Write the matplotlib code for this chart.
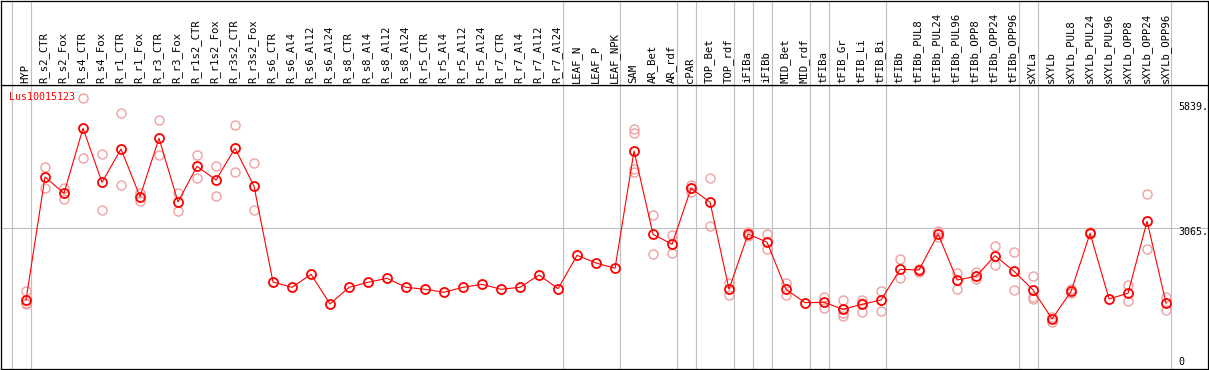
import matplotlib
matplotlib.use('Agg')
import matplotlib.pyplot as plt

# column names, left to right
samples = ['HYP', 'R_s2_CTR', 'R_s2_Fox', 'R_s4_CTR', 'R_s4_Fox', 'R_r1_CTR', 'R_r1_Fox',
           'R_r3_CTR', 'R_r3_Fox', 'R_r1s2_CTR', 'R_r1s2_Fox', 'R_r3s2_CTR', 'R_r3s2_Fox',
           'R_s6_CTR', 'R_s6_Al4', 'R_s6_Al12', 'R_s6_Al24', 'R_s8_CTR', 'R_s8_Al4',
           'R_s8_Al12', 'R_s8_Al24', 'R_r5_CTR', 'R_r5_Al4', 'R_r5_Al12', 'R_r5_Al24',
           'R_r7_CTR', 'R_r7_Al4', 'R_r7_Al12', 'R_r7_Al24', 'LEAF_N', 'LEAF_P', 'LEAF_NPK',
           'SAM', 'AR_Bet', 'AR_rdf', 'cPAR', 'TOP_Bet', 'TOP_rdf', 'iFIBa', 'iFIBb',
           'MID_Bet', 'MID_rdf', 'tFIBa', 'tFIB_Gr', 'tFIB_Li', 'tFIB_Bi', 'tFIBb',
           'tFIBb_PUL8', 'tFIBb_PUL24', 'tFIBb_PUL96', 'tFIBb_OPP8', 'tFIBb_OPP24',
           'tFIBb_OPP96', 'sXYLa', 'sXYLb', 'sXYLb_PUL8', 'sXYLb_PUL24', 'sXYLb_PUL96',
           'sXYLb_OPP8', 'sXYLb_OPP24', 'sXYLb_OPP96']

# mean expression per column
means = [1534, 4159, 3811, 5198, 4046, 4757, 3739, 4985, 3626, 4388, 4095, 4772, 3961,
         1918, 1805, 2083, 1449, 1805, 1912, 1997, 1805, 1763, 1699, 1805, 1869,
         1763, 1805, 2068, 1775, 2488, 2324, 2211,
         4714, 2936, 2723, 3918, 3619, 1763, 2943, 2766, 1763, 1477,
         1485, 1336, 1443, 1534, 2189, 2175, 2943, 1961, 2040, 2480, 2147,
         1748, 1129, 1720, 2958, 1556, 1680, 3214, 1464]

# replicate values per column (empty = none shown)
replicates = [[1733, 1477, 1449], [4366, 3918], [3931, 3696], [5839, 4558], [4650, 3449],
              [5525, 3982], [3818, 3653], [5369, 4622], [3811, 3434], [4622, 4131],
              [4400, 3760], [5262, 4259], [4452, 3449],
              [], [], [], [], [], [], [], [], [], [], [], [], [], [], [], [],
              [], [], [],
              [5177, 5092, 4324, 4266], [3342, 2516], [2915, 2537], [3995, 3918, 3839],
              [4131, 3113], [1891, 1635], [2992, 2900], [2943, 2616], [1904, 1635], [],
              [1605, 1357], [1534, 1251, 1193], [1534, 1477, 1285], [1726, 1293],
              [2403, 1997], [2189, 2125], [3013, 2872], [2117, 1775], [2125, 1990],
              [2687, 2275], [2552, 1741],
              [2047, 1592, 1549], [1178, 1071], [1763, 1690], [2985, 2936], [],
              [1861, 1519], [3790, 2616], [1598, 1327]]

# group separators drawn after these column indices
separators = [-1, 0, 28, 31, 34, 35, 37, 38, 39, 41, 42, 45, 52, 53, 60]

gene = 'Lus10015123'
max_label, mid_label = 5839, 3065

W, H = 1209, 370
fig = plt.figure(figsize=(W / 100, H / 100), dpi=100)

top_px, bot_px, left_px, right_px = 85, 369, 1, 1207.5
ax = fig.add_axes([left_px / W, 1 - bot_px / H, (right_px - left_px) / W, (bot_px - top_px) / H])
hx = fig.add_axes([left_px / W, 1 - top_px / H, (right_px - left_px) / W, (top_px - 0.5) / H], sharex=ax)

ax.set_xlim(-1.316, 62.18)
ax.set_ylim(62, 6122)
hx.set_ylim(0, 1)

for a in (ax, hx):
    a.set_xticks([])
    a.set_yticks([])
    for s in a.spines.values():
        s.set_linewidth(0.9)
        s.set_color('black')
    for sep in separators:
        a.axvline(sep + 0.25, color='#c0c0c0', lw=0.8, zorder=0)

ax.axhline(mid_label, color='#c0c0c0', lw=0.8, zorder=0)

xs = list(range(len(samples)))
for i, reps in enumerate(replicates):
    if reps:
        ax.plot([i] * len(reps), reps, 'o', ms=6.5, mfc='none', mec='#f0a0a0', mew=1.0, zorder=2)

ax.plot(xs, means, '-', color='red', lw=0.8, zorder=3)
ax.plot(xs, means, 'o', ms=6.5, mfc='none', mec='red', mew=1.3, zorder=4)

for i, name in enumerate(samples):
    hx.text(i - 0.05, 0.025, name, rotation=90, ha='center', va='bottom',
            fontsize=7.7, family='DejaVu Sans Mono', color='black')

ax.text(8.5 / (right_px - left_px), (bot_px - 97) / (bot_px - top_px), gene, transform=ax.transAxes,
        ha='left', va='center', color='red', fontsize=7.2, family='DejaVu Sans Mono')

for lab, ypx in [('%d.' % max_label, 107), ('%d.' % mid_label, 231.7), ('0', 361.7)]:
    ax.text((1178 - left_px) / (right_px - left_px), (bot_px - ypx) / (bot_px - top_px), lab,
            transform=ax.transAxes, ha='left', va='center', fontsize=7.2,
            family='DejaVu Sans Mono', color='black')

fig.savefig('out.png', dpi=100)
